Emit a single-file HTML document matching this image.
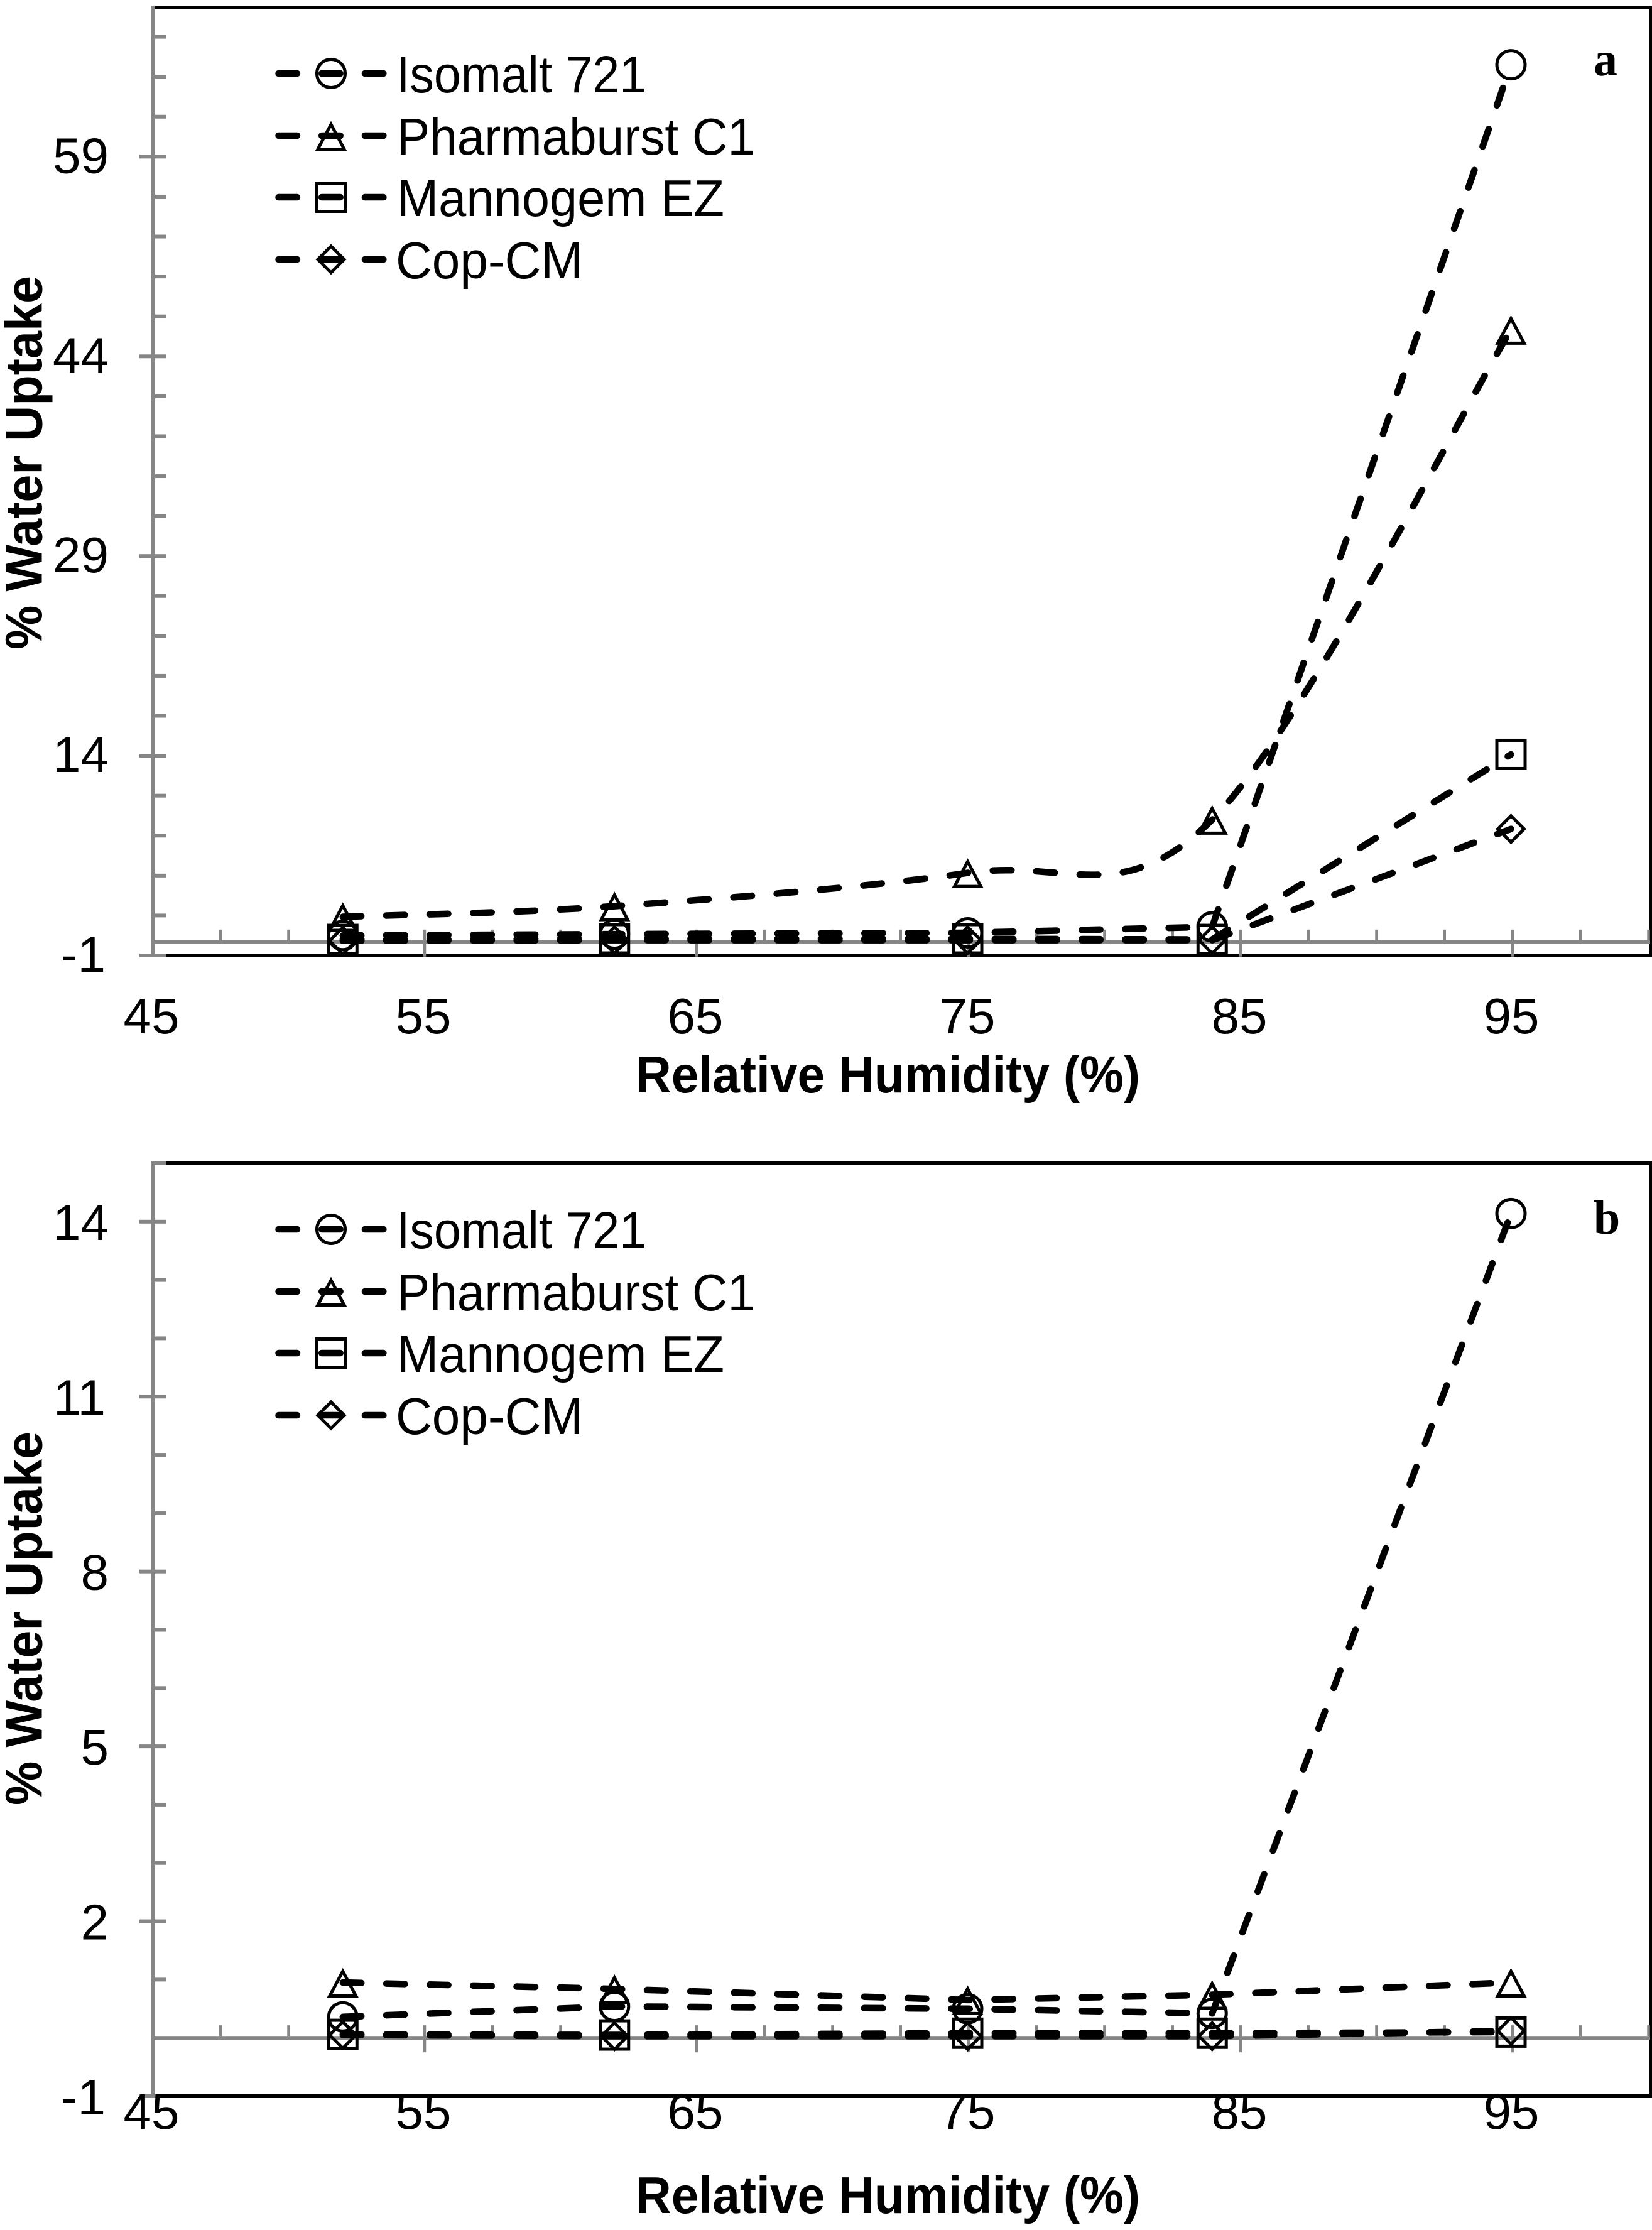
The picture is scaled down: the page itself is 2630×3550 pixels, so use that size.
<!DOCTYPE html>
<html lang="en">
<head>
<meta charset="utf-8">
<title>Water uptake versus relative humidity</title>
<style>
  html, body { margin: 0; padding: 0; background: #fff; }
  svg { display: block; }
  text { fill: #000; font-family: "Liberation Sans", sans-serif; }
</style>
</head>
<body>
<svg id="figure" xmlns="http://www.w3.org/2000/svg" width="2630" height="3550" viewBox="0 0 2630 3550"></svg>
<script>
// ---- data ----
const humidity = [52, 62, 75, 84, 95];
const seriesNames = ["Isomalt 721", "Pharmaburst C1", "Mannogem EZ", "Cop-CM"];

const isomaltA = [0.5, 0.6, 0.7, 1.15, 65.9];
const pharmaburstA = [1.9, 2.7, 5.2, 9.2, 46];
const mannogemA = [0.2, 0.25, 0.25, 0.2, 14.1];
const copA = [0.1, 0.15, 0.15, 0.15, 8.5];

const isomaltB = [0.36, 0.54, 0.5, 0.42, 14.14];
const pharmaburstB = [0.95, 0.84, 0.65, 0.74, 0.95];
const mannogemB = [0.06, 0.05, 0.08, 0.08, 0.1];
const copB = [0.05, 0.03, 0.03, 0.03, 0.12];

const xMajorTicks = [45, 55, 65, 75, 85, 95];
const xMinorTicks = [47.5, 50, 52.5, 57.5, 60, 62.5, 67.5, 70, 72.5, 77.5, 80, 82.5, 87.5, 90, 92.5, 97.5, 100];
const yMajorTicksA = [-1, 14, 29, 44, 59];
const yMinorTicksA = [2, 5, 8, 11, 17, 20, 23, 26, 32, 35, 38, 41, 47, 50, 53, 56, 62, 65, 68];
const yMajorTicksB = [-1, 2, 5, 8, 11, 14];
const yMinorTicksB = [1, 3, 4, 6, 7, 9, 10, 12, 13, 15];

// ---- layout ----
const NS = "http://www.w3.org/2000/svg";
const GRAY = "#868686";
const figure = document.getElementById("figure");

function mk(tag, attrs, parent, text) {
  const el = document.createElementNS(NS, tag);
  for (const k in attrs) el.setAttribute(k, attrs[k]);
  if (text !== undefined) el.textContent = text;
  parent.appendChild(el);
  return el;
}

function xScale(v) { return 243 + (v - 45) * 43.3; }
function dataX(v) { return 243 + (v - 45) * 43.25; }

function linePath(pts) {
  return pts.map((p, i) => (i ? "L" : "M") + p[0].toFixed(1) + " " + p[1].toFixed(1)).join(" ");
}

function smoothPath(pts) {
  let d = "M" + pts[0][0].toFixed(1) + " " + pts[0][1].toFixed(1);
  for (let i = 0; i < pts.length - 1; i++) {
    const p0 = pts[Math.max(i - 1, 0)], p1 = pts[i], p2 = pts[i + 1], p3 = pts[Math.min(i + 2, pts.length - 1)];
    const c1 = [p1[0] + (p2[0] - p0[0]) / 6, p1[1] + (p2[1] - p0[1]) / 6];
    const c2 = [p2[0] - (p3[0] - p1[0]) / 6, p2[1] - (p3[1] - p1[1]) / 6];
    d += " C" + [c1, c2, p2].map(c => c[0].toFixed(1) + " " + c[1].toFixed(1)).join(" ");
  }
  return d;
}

function marker(kind, cx, cy, parent) {
  const style = { fill: "none", stroke: "#000", "stroke-width": 5 };
  let el;
  if (kind === 0) {
    el = mk("circle", Object.assign({ cx: cx, cy: cy, r: 22.5 }, style), parent);
  } else if (kind === 1) {
    el = mk("polygon", Object.assign({ points: [[0, -18], [21, 21.5], [-21, 21.5]].map(p => (cx + p[0]) + "," + (cy + p[1])).join(" ") }, style), parent);
  } else if (kind === 2) {
    el = mk("rect", Object.assign({ x: cx - 22.5, y: cy - 22.5, width: 45, height: 45 }, style), parent);
  } else {
    el = mk("polygon", Object.assign({ points: [[0, -21], [21, 0], [0, 21], [-21, 0]].map(p => (cx + p[0]) + "," + (cy + p[1])).join(" ") }, style), parent);
  }
  return el;
}

function drawPanel(cfg) {
  const g = mk("g", {}, figure);
  
  

  const unit = (cfg.pxBottom - cfg.pxTop) / (cfg.yMax - cfg.yMin);
  const yScale = v => cfg.pxBottom - (v - cfg.yMin) * unit;
  const y0 = yScale(0);

  // frame
  const frameTop = mk("rect", { x: 243, y: cfg.pxTop - 3, width: 2387, height: 6, fill: "#000" }, g);
  
  
  const frameRight = mk("rect", { x: 2625, y: cfg.pxTop - 3, width: 5, height: cfg.pxBottom - cfg.pxTop + 6, fill: "#000" }, g);
  
  
  const frameBottom = mk("rect", { x: 243, y: cfg.pxBottom - 3, width: 2387, height: 6, fill: "#000" }, g);
  
  

  // axes
  const yAxis = mk("rect", { x: 240, y: cfg.pxTop - 3, width: 6, height: cfg.pxBottom - cfg.pxTop + 6, fill: GRAY }, g);
  
  
  const xAxis = mk("rect", { x: 243, y: y0 - 3, width: 2384, height: 6, fill: GRAY }, g);
  
  

  cfg.yMinor.forEach(v => {
    const t = mk("rect", { x: 247, y: yScale(v) - 3, width: 17, height: 6, fill: GRAY }, g);
    
    
  });
  cfg.yMajor.forEach(v => {
    const t = mk("rect", { x: 222, y: yScale(v) - 3, width: 42, height: 6, fill: GRAY }, g);
    
    
    const isOne = String(v).endsWith("1");
    const lab = mk("text", { x: isOne ? 168 : 173, y: yScale(v) + cfg.yLabelShift, "text-anchor": "end", "font-size": 80 }, g, String(v));
    
    
  });
  xMinorTicks.forEach(v => {
    const t = mk("rect", { x: xScale(v) - 2.25, y: y0 - 20, width: 4.5, height: 17, fill: GRAY }, g);
    
    
  });
  xMajorTicks.forEach(v => {
    const t = mk("rect", { x: xScale(v) - 2.25, y: y0 - 20, width: 4.5, height: 43, fill: GRAY }, g);
    
    
    const lab = mk("text", { x: xScale(v) - 2, y: cfg.xLabelBaseline, "text-anchor": "middle", "font-size": 80 }, g, String(v));
    
    
  });

  // series
  cfg.series.forEach((vals, s) => {
    const pts = humidity.map((h, i) => [dataX(h), yScale(vals[i])]);
    const sg = mk("g", {}, g);
    
    
    const path = mk("path", {
      d: cfg.smooth[s] ? smoothPath(pts) : linePath(pts),
      fill: "none", stroke: "#000", "stroke-width": 10.5,
      "stroke-dasharray": "29.5 39.7", "stroke-linecap": "round", "stroke-linejoin": "round"
    }, sg);
    
    
    pts.forEach(p => {
      const m = marker(s, p[0], p[1], sg);
      
      
    });
  });

  // legend
  const legend = mk("g", {}, g);
  
  
  const legendTextX = [631, 632, 632, 630];
  const legendTextLen = [398, 570, 521, 298];
  seriesNames.forEach((name, s) => {
    const ly = cfg.legendY[s];
    const entry = mk("g", {}, legend);
    
    
    const dash = mk("line", {
      x1: 443.5, x2: 612, y1: ly, y2: ly, stroke: "#000", "stroke-width": 10.5,
      "stroke-dasharray": "29.5 39.2", "stroke-linecap": "round"
    }, entry);
    
    
    const m = marker(s, 527, ly, entry);
    
    
    const label = mk("text", {
      x: legendTextX[s], y: ly + 30, "font-size": 83,
      textLength: legendTextLen[s], lengthAdjust: "spacingAndGlyphs"
    }, entry, name);
    
    
  });

  // titles
  const xTitle = mk("text", {
    x: 1012, y: cfg.xTitleBaseline, "font-size": 83, "font-weight": "bold",
    textLength: 803, lengthAdjust: "spacingAndGlyphs"
  }, g, "Relative Humidity (%)");
  
  
  const yTitle = mk("text", {
    transform: "translate(66.5," + cfg.yTitleBottom + ") rotate(-90)", "font-size": 83, "font-weight": "bold",
    textLength: 595, lengthAdjust: "spacingAndGlyphs"
  }, g, "% Water Uptake");
  
  
  const tag = mk("text", {
    x: 2537, y: cfg.tagBaseline, "font-size": 76, "font-weight": "bold",
    style: 'font-family:"Liberation Serif",serif'
  }, g, cfg.id);
  
  
}

drawPanel({
  id: "a",
  yMin: -1, yMax: 70.2, pxTop: 12, pxBottom: 1521,
  yMajor: yMajorTicksA, yMinor: yMinorTicksA,
  series: [isomaltA, pharmaburstA, mannogemA, copA],
  smooth: [false, true, false, false],
  yLabelShift: 26, xLabelBaseline: 1645, xTitleBaseline: 1739,
  yTitleBottom: 1034, tagBaseline: 120,
  legendY: [117, 216, 314, 413]
});

drawPanel({
  id: "b",
  yMin: -1, yMax: 15, pxTop: 1852, pxBottom: 3337,
  yMajor: yMajorTicksB, yMinor: yMinorTicksB,
  series: [isomaltB, pharmaburstB, mannogemB, copB],
  smooth: [false, false, false, false],
  yLabelShift: 29, xLabelBaseline: 3389, xTitleBaseline: 3523,
  yTitleBottom: 2874, tagBaseline: 1964,
  legendY: [1957, 2056, 2154, 2253]
});
</script>
</body>
</html>
